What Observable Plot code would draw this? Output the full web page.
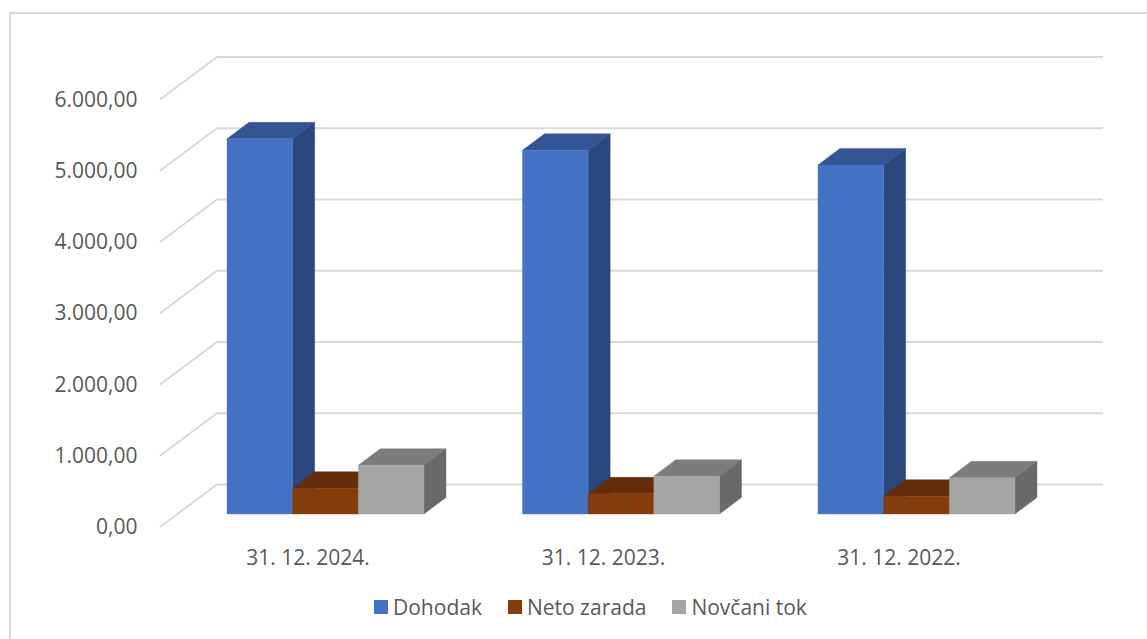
<!DOCTYPE html>
<html><head><meta charset="utf-8">
<script src="https://cdn.jsdelivr.net/npm/d3@7"></script>
<script src="https://cdn.jsdelivr.net/npm/@observablehq/plot@0.6"></script>
<style>
html,body{margin:0;padding:0;background:#fff;width:1147px;height:639px;overflow:hidden}
#frame{position:absolute;left:9px;top:12px;right:-5px;bottom:-5px;border-left:2px solid #d9d9d9;border-top:2px solid #d9d9d9}
#chart{position:absolute;left:0;top:0}
#legend{position:absolute;left:374px;top:593px;display:flex;font:21px "Open Sans",sans-serif;color:#595959;white-space:nowrap}
#legend span.k{display:inline-flex;align-items:center;margin-right:26px}
#legend span.k:last-child{margin-right:0}
#legend i{display:inline-block;width:14px;height:14px;margin-right:5px}
</style></head><body>
<div id="frame"></div><div id="chart"></div><div id="legend"></div>
<script>
const dates = ["31. 12. 2024.", "31. 12. 2023.", "31. 12. 2022."];
const series = ["Dohodak", "Neto zarada", "Novčani tok"];
const dohodak = [5265, 5105, 4900];
const netoZarada = [362, 283, 250];
const novcaniTok = [685, 530, 508];
const yTicks = [0, 1000, 2000, 3000, 4000, 5000, 6000];
const colors = ["#4472C4", "#843C0C", "#A5A5A5"];
const topColors = ["#335593", "#632D09", "#7C7C7C"];
const sideColors = ["#2A477D", "#542607", "#696969"];
const rows = dates.flatMap((date, i) => [dohodak, netoZarada, novcaniTok].map((v, s) => ({date, series: series[s], value: v[i]})));

const fmt = d3.formatLocale({decimal: ",", thousands: ".", grouping: [3], currency: ["", ""]}).format(",.2f");
const NS = "http://www.w3.org/2000/svg";
function poly(pts, fill) {
  const p = document.createElementNS(NS, "polygon");
  p.setAttribute("points", pts.map(d => d.join(",")).join(" "));
  p.setAttribute("fill", fill);
  p.setAttribute("stroke", fill);
  p.setAttribute("stroke-width", 0.4);
  return p;
}
const barDepth = [22, -16.5];
const wallDepth = [57, -42.6];
const wallFrontDy = 13;
const gridLeft = 160, gridRight = 1103;

const W = 1147, H = 590, ML = 177.75;
const chart = Plot.plot({
  width: W, height: H,
  marginLeft: ML, marginRight: 82.75, marginTop: 86.5, marginBottom: H - 514,
  style: {background: "transparent", fontFamily: "'Open Sans',sans-serif"},
  fx: {domain: dates, paddingInner: 1/3, paddingOuter: 1/6, round: false, label: null},
  x: {domain: series, padding: 0, round: false, axis: null},
  y: {domain: [0, 6000], label: null},
  color: {domain: series, range: colors},
  marks: [
    Plot.ruleY(yTicks, {
      fx: () => dates[0], y: d => d,
      render(index, scales, values) {
        const g = document.createElementNS(NS, "g");
        g.setAttribute("transform", `translate(${-(scales.fx(dates[0]) - ML)},0)`);
        for (const i of index) {
          const yy = values.y[i] + wallFrontDy;
          const p = document.createElementNS(NS, "polyline");
          p.setAttribute("points", `${gridLeft},${yy} ${gridLeft + wallDepth[0]},${yy + wallDepth[1]} ${gridRight},${yy + wallDepth[1]}`);
          p.setAttribute("fill", "none");
          p.setAttribute("stroke", "#d9d9d9");
          p.setAttribute("stroke-width", 2);
          g.appendChild(p);
        }
        return g;
      }
    }),
    Plot.barY(rows, {
      fx: "date", x: "series", y: "value", fill: "series",
      render(index, scales, values) {
        const g = document.createElementNS(NS, "g");
        const w = scales.x.bandwidth();
        const [dx, dy] = barDepth;
        for (const i of index) {
          const s = series.indexOf(rows[i].series);
          const x0 = values.x[i], x1 = x0 + w, yb = values.y1[i], yt = values.y2[i];
          g.appendChild(poly([[x0,yt],[x0+dx,yt+dy],[x1+dx,yt+dy],[x1,yt]], topColors[s]));
          g.appendChild(poly([[x1,yt],[x1+dx,yt+dy],[x1+dx,yb+dy],[x1,yb]], sideColors[s]));
          g.appendChild(poly([[x0,yt],[x1,yt],[x1,yb],[x0,yb]], colors[s]));
        }
        return g;
      }
    }),
    Plot.axisY({ticks: yTicks, tickSize: 0, tickPadding: 90, dy: 13, fontSize: 21, tickFormat: fmt, label: null, fill: "#595959"}),
    Plot.axisFx({anchor: "bottom", tickSize: 0, tickPadding: 36, dx: -18, fontSize: 21, label: null, fill: "#595959"})
  ]
});
document.getElementById("chart").appendChild(chart);
const lg = document.getElementById("legend");
series.forEach((s, i) => {
  const k = document.createElement("span"); k.className = "k";
  const sw = document.createElement("i"); sw.style.background = colors[i];
  k.appendChild(sw); k.appendChild(document.createTextNode(s));
  lg.appendChild(k);
});
</script></body></html>
